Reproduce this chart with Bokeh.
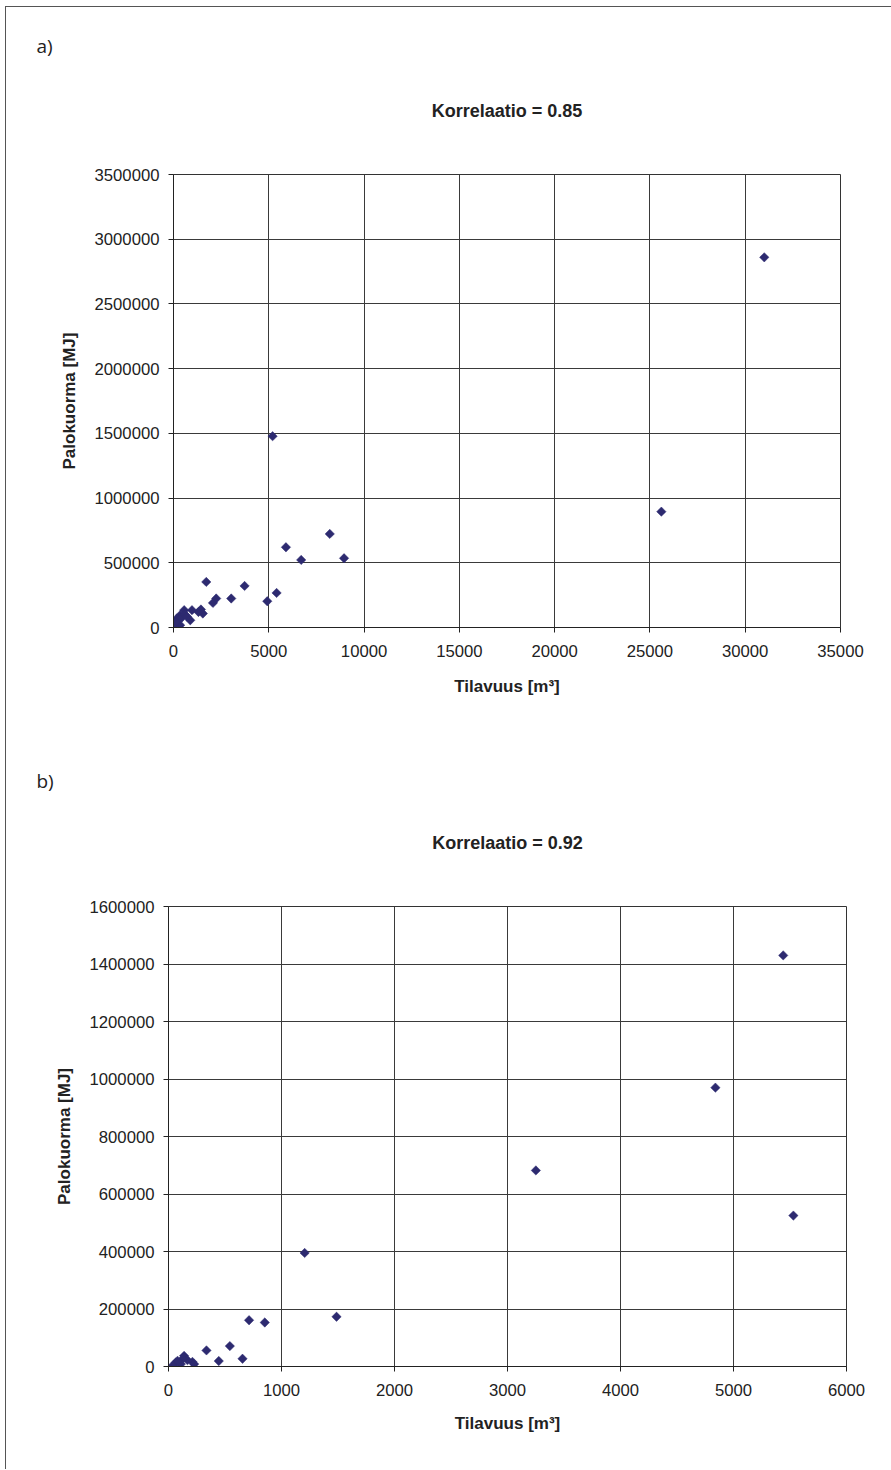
import numpy as np
from bokeh.plotting import figure
from bokeh.layouts import column
from bokeh.models import Range1d, SingleIntervalTicker, BasicTickFormatter, Title
from bokeh.embed import file_html
from bokeh.resources import INLINE

# ---------------- data ----------------
a_volume = [31000, 25600, 5200, 5900, 6700, 8200, 8950, 3730, 3030, 4920, 5410,
            1720, 2240, 2070, 1440, 1540, 1310, 970, 880, 560, 350, 180, 90,
            350, 260, 440, 50, 120, 600, 700]
a_fireload = [2860000, 895000, 1478000, 620000, 522000, 723000, 535000, 321000,
              224000, 203000, 267000, 352000, 224000, 190000, 139000, 108000,
              120000, 134000, 56000, 134000, 95000, 70000, 35000, 18000, 56000,
              77000, 5000, 40000, 100000, 85000]

b_volume = [5440, 4840, 3251, 5530, 1205, 1487, 713, 852, 336, 543, 445, 655,
            138, 65, 212, 35, 109, 168, 227, 124, 80]
b_fireload = [1430000, 970000, 682000, 525000, 395000, 173000, 161000, 153000,
              56000, 71000, 19000, 27000, 37000, 14000, 16000, 2400, 8300,
              22000, 8300, 25700, 19800]

a_title = "Korrelaatio = 0.85"
b_title = "Korrelaatio = 0.92"
panel_a = "a)"
panel_b = "b)"
x_label = "Tilavuus [m³]"
y_label = "Palokuorma [MJ]"

MARK = "#2d2a70"
INK = "#222222"
GRID = "#3a3a3a"


def make_chart(xs, ys, xmax, xstep, ymax, ystep, title, panel,
               w, h, bl, br, bt, bb, xlab_standoff, panel_standoff):
    p = figure(width=w, height=h, output_backend="svg", toolbar_location=None,
               x_range=Range1d(0, xmax), y_range=Range1d(0, ymax),
               min_border_left=bl, min_border_right=br,
               min_border_top=bt, min_border_bottom=bb,
               frame_align=False,
               background_fill_color="white", border_fill_color="white")
    p.scatter(xs, ys, marker="square", angle=np.pi / 4, size=6.6,
              fill_color=MARK, line_color=MARK, line_width=0.5)

    p.xaxis.ticker = SingleIntervalTicker(interval=xstep, num_minor_ticks=0)
    p.yaxis.ticker = SingleIntervalTicker(interval=ystep, num_minor_ticks=0)
    p.xgrid.ticker = SingleIntervalTicker(interval=xstep, num_minor_ticks=0)
    p.ygrid.ticker = SingleIntervalTicker(interval=ystep, num_minor_ticks=0)
    p.xaxis.formatter = BasicTickFormatter(use_scientific=False)
    p.yaxis.formatter = BasicTickFormatter(use_scientific=False)

    p.grid.grid_line_color = GRID
    p.grid.grid_line_width = 1
    p.outline_line_color = "#333333"
    p.outline_line_width = 1

    p.axis.axis_line_color = INK
    p.axis.major_tick_line_color = INK
    p.axis.major_tick_in = 0
    p.axis.major_tick_out = 5
    p.axis.minor_tick_line_color = None
    p.axis.major_label_text_font = "Liberation Sans"
    p.axis.major_label_text_font_size = "16.7px"
    p.axis.major_label_text_color = INK
    p.xaxis.major_label_standoff = 12
    p.yaxis.major_label_standoff = 9

    p.xaxis.axis_label = x_label
    p.yaxis.axis_label = y_label
    p.axis.axis_label_text_font = "Liberation Sans"
    p.axis.axis_label_text_font_size = "17px"
    p.axis.axis_label_text_font_style = "bold"
    p.axis.axis_label_text_color = INK
    p.xaxis.axis_label_standoff = xlab_standoff
    p.yaxis.axis_label_standoff = 13

    # spacer between the frame and the chart title
    p.add_layout(Title(text=" ", align="center", standoff=25,
                       text_font="Liberation Sans", text_font_size="2px"), "above")
    p.add_layout(Title(text=title, align="center", standoff=50,
                       text_font="Liberation Sans", text_font_style="bold",
                       text_font_size="18px", text_color=INK), "above")
    p.add_layout(Title(text=panel, align="left", offset=36 - 6 - bl, standoff=panel_standoff,
                       text_font="Open Sans", text_font_style="normal",
                       text_font_size="19px", text_color=INK), "above")
    return p


pa = make_chart(a_volume, a_fireload, 35000, 5000, 3500000, 500000, a_title, panel_a,
                885, 725, 167, 51, 167, 105, 17, 30)
pb = make_chart(b_volume, b_fireload, 6000, 1000, 1600000, 200000, b_title, panel_b,
                885, 737, 162, 45, 174, 103, 15, 24)

layout = column(pa, pb, margin=(6, 0, 0, 5),
                styles={"border-left": "1px solid #555555",
                        "border-top": "1px solid #555555"})

with open("out.html", "w") as f:
    f.write(file_html(layout, INLINE))
